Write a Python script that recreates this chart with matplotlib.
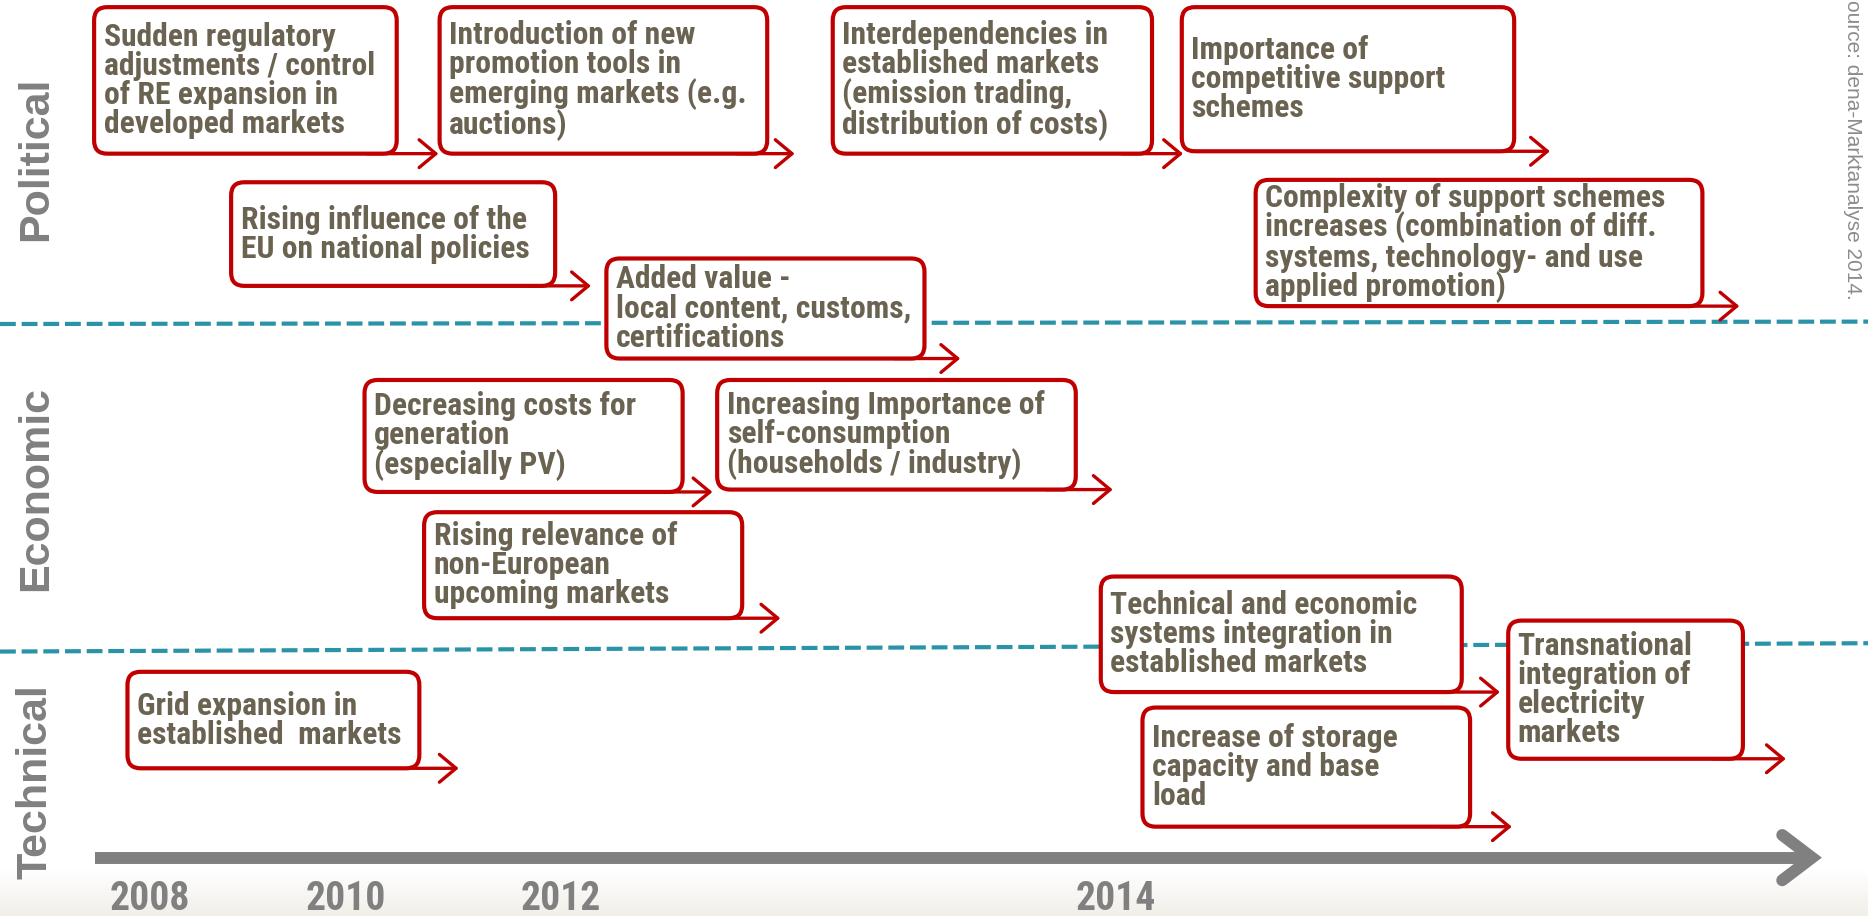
"""
Timeline of political, economic and technical trends for renewable energy markets.
"""
import matplotlib
matplotlib.use("Agg")
import matplotlib.pyplot as plt
from matplotlib import font_manager
from matplotlib.patches import FancyBboxPatch
import numpy as np

categories = ["Political", "Economic", "Technical"]
years = ["2008", "2010", "2012", "2014"]
source = "Source: dena-Marktanalyse 2014."

trends = [
    "Sudden regulatory\nadjustments / control\nof RE expansion in\ndeveloped markets",
    "Introduction of new\npromotion tools in\nemerging markets (e.g.\nauctions)",
    "Interdependencies in\nestablished markets\n(emission trading,\ndistribution of costs)",
    "Importance of\ncompetitive support\nschemes",
    "Rising influence of the\nEU on national policies",
    "Complexity of support schemes\nincreases (combination of diff.\nsystems, technology- and use\napplied promotion)",
    "Added value -\nlocal content, customs,\ncertifications",
    "Decreasing costs for\ngeneration\n(especially PV)",
    "Increasing Importance of\nself-consumption\n(households / industry)",
    "Rising relevance of\nnon-European\nupcoming markets",
    "Technical and economic\nsystems integration in\nestablished markets",
    "Increase of storage\ncapacity and base\nload",
    "Transnational\nintegration of\nelectricity\nmarkets",
    "Grid expansion in\nestablished  markets",
]

# layout in pixels of a 1568 x 769 canvas: box left, top, right, bottom, arrow end
boxes = [
    (79, 6, 333, 129, 368),
    (369, 6, 644, 129, 667),
    (699, 6, 967, 129, 993),
    (992, 6, 1271, 127, 1301),
    (194, 153, 466, 240, 496),
    (1054, 151, 1429, 257, 1460),
    (509, 217, 776, 301, 806),
    (306, 319, 573, 413, 598),
    (602, 319, 903, 411, 934),
    (356, 430, 623, 519, 655),
    (924, 484, 1227, 581, 1259),
    (959, 594, 1234, 694, 1269),
    (1266, 521, 1463, 637, 1499),
    (107, 564, 352, 645, 385),
]
cat_pos = [133, 410, 656]
year_pos = [126, 290, 471, 937]

RED = "#c00000"
TEXT = "#6b6352"
GRAY = "#808080"
TEAL = "#2a93a8"


def has_font(name):
    try:
        font_manager.findfont(name, fallback_to_default=False)
        return True
    except Exception:
        return False


narrow = "Liberation Sans"
for cand in ["Liberation Sans Narrow", "Roboto Condensed", "PT Sans Narrow",
             "Archivo Narrow", "Asap Condensed"]:
    if has_font(cand):
        narrow = cand
        break

W, H = 1568, 769
fig = plt.figure(figsize=(18.68, 9.16), dpi=100)
ax = fig.add_axes([0, 0, 1, 1])
ax.set_xlim(0, W)
ax.set_ylim(H, 0)
ax.axis("off")

# faint beige band at the bottom
grad = np.linspace(0, 1, 50).reshape(-1, 1)
cmap = matplotlib.colors.LinearSegmentedColormap.from_list("bg", ["#ffffff", "#f2efe9"])
ax.imshow(grad, extent=(0, W, H, 730), cmap=cmap, aspect="auto", zorder=0)

# section separators
for y0, y1 in [(272, 270), (547, 540)]:
    ax.plot([0, W], [y0, y1], color=TEAL, lw=3, dashes=(3.8, 1.4), zorder=1)

# time axis
ax.plot([80, 1515], [720, 720], color=GRAY, lw=8.6, solid_capstyle="butt", zorder=1)
ax.plot([1496, 1521, 1496], [701, 720, 739], color=GRAY, lw=8.6,
        solid_capstyle="round", solid_joinstyle="miter", zorder=1)

for label, x in zip(years, year_pos):
    ax.text(x, 755, label, ha="center", va="center", fontsize=28.5,
            fontweight="bold", color=GRAY, family=narrow)

for label, y in zip(categories, cat_pos):
    ax.text(30, y, label, ha="center", va="center", rotation=90, fontsize=31,
            fontweight="bold", color=GRAY, family="Liberation Sans")

ax.text(1555, -12, source, ha="center", va="top", rotation=270, fontsize=15,
        color="#8c8c8c", family="Liberation Sans")

for text, (x0, y0, x1, y1, xe) in zip(trends, boxes):
    ax.add_patch(FancyBboxPatch((x0, y0), x1 - x0, y1 - y0,
                                boxstyle="round,pad=0,rounding_size=11",
                                fc="white", ec=RED, lw=3, zorder=3))
    ax.annotate("", xy=(xe, y1), xytext=(x1 - 25, y1),
                arrowprops=dict(arrowstyle="->,head_length=0.6,head_width=0.5",
                                color=RED, lw=2.4, shrinkA=0, shrinkB=0,
                                mutation_scale=20),
                zorder=2)
    ax.text(x0 + 8, (y0 + y1) / 2, text, ha="left", va="center",
            fontsize=22.8, fontweight="bold", color=TEXT, family=narrow,
            linespacing=0.96, zorder=4)

fig.savefig("out.png", dpi=100)
